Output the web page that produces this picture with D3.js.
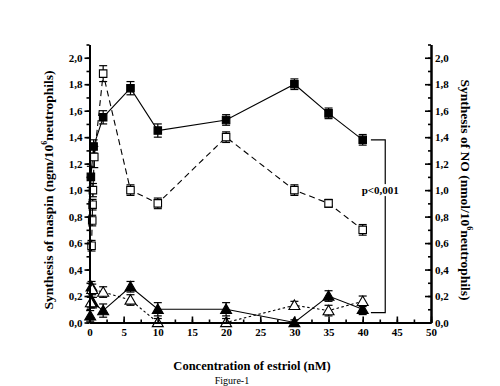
<!DOCTYPE html>
<html><head><meta charset="utf-8">
<script src="https://cdn.jsdelivr.net/npm/d3@7"></script>
<style>body{margin:0;background:#fff}svg{display:block}</style>
</head><body><svg id="c" width="500" height="386" style="font-family:'Liberation Serif',Tinos,Times,serif"></svg>
<script>
// ---- data ----
const xTicks = [0,5,10,15,20,25,30,35,40,45,50];
const yTicks = [0,0.2,0.4,0.6,0.8,1.0,1.2,1.4,1.6,1.8,2.0];
// filled squares, solid line
const sqFx = [0.2, 0.6, 2, 6, 10, 20, 30, 35, 40];
const sqFy = [1.10, 1.33, 1.55, 1.77, 1.45, 1.53, 1.80, 1.58, 1.38];
const sqFe = [0.08, 0.05, 0.05, 0.05, 0.05, 0.04, 0.04, 0.04, 0.04];
// open squares, dashed line
const sqOx = [0.3, 0.4, 0.45, 0.5, 0.7, 2, 6, 10, 20, 30, 35, 40];
const sqOy = [0.58, 0.77, 0.89, 1.00, 1.25, 1.88, 1.00, 0.90, 1.40, 1.00, 0.90, 0.70];
const sqOe = [0.04, 0.04, 0.04, 0.05, 0.08, 0.06, 0.04, 0.04, 0.04, 0.04, 0.03, 0.04];
// filled triangles, solid line
const trFx = [0.1, 0.3, 0.5, 2, 6, 10, 20, 30, 35, 40];
const trFy = [0.05, 0.27, 0.15, 0.09, 0.27, 0.10, 0.10, 0.00, 0.20, 0.10];
const trFe = [0.04, 0.04, 0.04, 0.05, 0.04, 0.05, 0.05, 0.02, 0.04, 0.04];
// open triangles, dotted line
const trOx = [0.2, 0.4, 2, 6, 10, 20, 30, 35, 40];
const trOy = [0.15, 0.25, 0.23, 0.17, 0.00, 0.00, 0.13, 0.09, 0.16];
const trOe = [0.04, 0.04, 0.04, 0.04, 0.03, 0.03, 0.03, 0.04, 0.04];
const pLabel = "p<0,001";
const pBracketX = [41.2, 43.3];
const pBracketY = [1.38, 0.075];
const pTextY = 0.97;

const FONT = "'Liberation Serif',Tinos,Times,serif";
const fmt = v => d3.format(".1f")(v).replace(".", ",");
const svg = d3.select("#c");
const x = d3.scaleLinear().domain([0,50]).range([89.5,431]);
const y = d3.scaleLinear().domain([0,2.1]).range([322.5,44.5]);

function series(xs, ys, es){ return xs.map((v,i)=>({x:v,y:ys[i],e:es[i]})); }
const S = [
  {d:series(sqFx,sqFy,sqFe), shape:"sq", fill:"#000", dash:null},
  {d:series(sqOx,sqOy,sqOe), shape:"sq", fill:"#fff", dash:"6,4"},
  {d:series(trFx,trFy,trFe), shape:"tr", fill:"#000", dash:null},
  {d:series(trOx,trOy,trOe), shape:"tr", fill:"#fff", dash:"2.5,2.5"}
];

const line = d3.line().x(d=>x(d.x)).y(d=>y(d.y));
S.forEach(s=>{
  svg.append("path").attr("d", line(s.d)).attr("fill","none").attr("stroke","#000")
    .attr("stroke-width",1.1).attr("stroke-dasharray", s.dash);
});
S.forEach(s=>{
  const g = svg.append("g");
  s.d.forEach(p=>{
    const cx=x(p.x), y1=y(p.y+p.e), y0=y(Math.max(0,p.y-p.e));
    g.append("line").attr("x1",cx).attr("x2",cx).attr("y1",y1).attr("y2",y0).attr("stroke","#000").attr("stroke-width",1.2);
    g.append("line").attr("x1",cx-4).attr("x2",cx+4).attr("y1",y1).attr("y2",y1).attr("stroke","#000").attr("stroke-width",1.2);
    g.append("line").attr("x1",cx-4).attr("x2",cx+4).attr("y1",y0).attr("y2",y0).attr("stroke","#000").attr("stroke-width",1.2);
  });
  const sym = s.shape==="sq" ? d3.symbolSquare : d3.symbolTriangle;
  const size = s.shape==="sq" ? 56 : 52;
  g.selectAll("path.m").data(s.d).join("path").attr("class","m")
    .attr("d", d3.symbol().type(sym).size(size))
    .attr("transform", d=>`translate(${x(d.x)},${y(d.y) + (s.shape==="tr"?1:0)})`)
    .attr("fill", s.fill).attr("stroke","#000").attr("stroke-width",1.1);
});

// p bracket
const bx0=x(pBracketX[0]), bx1=x(pBracketX[1]);
svg.append("path").attr("d",`M${bx0},${y(pBracketY[0])}H${bx1}V${y(pBracketY[1])}H${bx0}`)
  .attr("fill","none").attr("stroke","#000").attr("stroke-width",1.2);
const pt = svg.append("text").attr("x",bx1-5).attr("y",y(pTextY)).attr("text-anchor","middle")
  .style("font-family",FONT).attr("font-size",11).attr("font-weight","bold").text(pLabel);
const bb = pt.node().getBBox();
svg.append("rect").attr("x",bb.x-1).attr("y",bb.y).attr("width",bb.width+2).attr("height",bb.height).attr("fill","#fff");
pt.raise();

// axes
function styleAxis(g){
  g.attr("font-family", null);
  g.selectAll("path.domain").attr("stroke-width",2);
  g.selectAll(".tick line").attr("stroke-width",1.6);
  g.selectAll(".tick text").style("font-family",FONT).attr("font-weight","bold").attr("font-size",11).attr("fill","#000");
}
const minorY = d3.range(0,22).map(i=>i/10);
const minorX = d3.range(0,21).map(i=>i*2.5);
// left
svg.append("g").attr("transform","translate(89.5,0)")
  .call(d3.axisLeft(y).tickValues(minorY).tickSize(3).tickFormat("").tickSizeOuter(0)).call(styleAxis);
svg.append("g").attr("transform","translate(89.5,0)")
  .call(d3.axisLeft(y).tickValues(yTicks).tickSize(5).tickPadding(2).tickFormat(fmt).tickSizeOuter(0)).call(styleAxis);
// right (ticks inward)
svg.append("g").attr("transform","translate(431,0)")
  .call(d3.axisRight(y).tickValues(minorY).tickSize(-3).tickFormat("").tickSizeOuter(0)).call(styleAxis);
svg.append("g").attr("transform","translate(431,0)")
  .call(d3.axisRight(y).tickValues(yTicks).tickSize(-6).tickPadding(4).tickFormat(fmt).tickSizeOuter(0)).call(styleAxis);
// bottom (ticks inward)
svg.append("g").attr("transform","translate(0,322.5)")
  .call(d3.axisBottom(x).tickValues(minorX).tickSize(-3).tickFormat("").tickSizeOuter(0)).call(styleAxis);
svg.append("g").attr("transform","translate(0,322.5)")
  .call(d3.axisBottom(x).tickValues(xTicks).tickSize(-6).tickPadding(6).tickFormat(d3.format("d")).tickSizeOuter(0)).call(styleAxis);

// titles
const lt = svg.append("text").attr("transform","translate(53,190) rotate(-90)").attr("text-anchor","middle")
  .style("font-family",FONT).attr("font-size",13.5).attr("font-weight","bold");
lt.append("tspan").text("Synthesis of maspin (ngm/10");
lt.append("tspan").attr("font-size",8).attr("dy",-6).text("6");
lt.append("tspan").attr("dy",6).text("neutrophils)");
const rt = svg.append("text").attr("transform","translate(461,190) rotate(90)").attr("text-anchor","middle")
  .style("font-family",FONT).attr("font-size",13.5).attr("font-weight","bold");
rt.append("tspan").text("Synthesis of NO (nmol/10");
rt.append("tspan").attr("font-size",8).attr("dy",-6).text("6");
rt.append("tspan").attr("dy",6).text("neutrophils)");
svg.append("text").attr("x",252).attr("y",370).attr("text-anchor","middle").attr("font-size",12.5)
  .style("font-family",FONT).attr("font-weight","bold").text("Concentration of estriol (nM)");
svg.append("text").attr("x",232).attr("y",384).attr("text-anchor","middle").attr("font-size",10)
  .style("font-family",FONT).text("Figure-1");
</script></body></html>
